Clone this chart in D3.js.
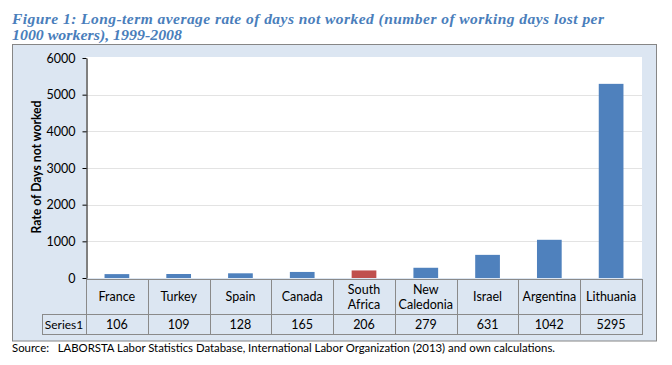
<!DOCTYPE html>
<html><head><meta charset="utf-8">
<script src="https://cdn.jsdelivr.net/npm/d3@7"></script>
<style>body{margin:0;background:#fff}svg{display:block}text{white-space:pre}</style>
</head><body>
<script>
const categories = ["France","Turkey","Spain","Canada","South Africa","New Caledonia","Israel","Argentina","Lithuania"];
const categoryLines = [["France"],["Turkey"],["Spain"],["Canada"],["South","Africa"],["New","Caledonia"],["Israel"],["Argentina"],["Lithuania"]];
const series1 = [106,109,128,165,206,279,631,1042,5295];
const highlight = ["South Africa"];
const yTicks = [0,1000,2000,3000,4000,5000,6000];
const seriesName = "Series1";
const titleLines = ["Figure 1: Long-term average rate of days not worked (number of working days lost per","1000 workers), 1999-2008"];
const yTitle = "Rate of Days not worked";
const source = "Source:   LABORSTA Labor Statistics Database, International Labor Organization (2013) and own calculations.";

const W=672,H=365;
const svg=d3.select("body").append("svg").attr("width",W).attr("height",H);
const font="Lato, 'Open Sans', sans-serif";

// title
svg.append("text").attr("x",12).attr("y",24).attr("textLength",592).attr("lengthAdjust","spacing")
  .attr("font-family","'Liberation Serif', serif").attr("font-style","italic").attr("font-weight","bold")
  .attr("font-size",15.5).attr("fill","#4a7ebb").text(titleLines[0]);
svg.append("text").attr("x",12).attr("y",40).attr("textLength",170).attr("lengthAdjust","spacingAndGlyphs")
  .attr("font-family","'Liberation Serif', serif").attr("font-style","italic").attr("font-weight","bold")
  .attr("font-size",15.5).attr("fill","#4a7ebb").text(titleLines[1]);

// outer box
svg.append("rect").attr("x",12.5).attr("y",44.5).attr("width",644).attr("height",296.5)
  .attr("fill","#dce6f2").attr("stroke","#868686");

const x0=86,x1=642,yTop=57,yBot=278;
const x=d3.scaleBand().domain(categories).range([x0,x1]).padding(0);
const y=d3.scaleLinear().domain([0,6000]).range([yBot,58]);

// plot area
svg.append("rect").attr("x",x0).attr("y",yTop).attr("width",x1-x0).attr("height",yBot-yTop).attr("fill","#fff");

// gridlines
svg.append("g").selectAll("line").data(yTicks.filter(d=>d>0&&d<6000)).join("line")
  .attr("x1",x0).attr("x2",x1).attr("y1",d=>Math.round(y(d))+0.5).attr("y2",d=>Math.round(y(d))+0.5)
  .attr("stroke","#e3e3e3");

// y axis
const ax=svg.append("g").attr("transform",`translate(${x0+0.5},0)`)
  .call(d3.axisLeft(y).tickValues(yTicks).tickFormat(d3.format("d")).tickSize(4).tickPadding(7).tickSizeOuter(0));
ax.select(".domain").attr("stroke","#000");
ax.selectAll(".tick line").attr("stroke","#000");
ax.selectAll("text").attr("font-family",font).attr("font-size",12.5).attr("fill","#000");

// y title
svg.append("text").attr("transform","translate(41,167) rotate(-90)").attr("text-anchor","middle")
  .attr("font-family",font).attr("font-weight","bold").attr("font-size",12.5).attr("fill","#000")
  .attr("textLength",133).attr("lengthAdjust","spacingAndGlyphs").text(yTitle);

// bars
const bw=x.bandwidth()*0.4;
svg.append("g").selectAll("rect").data(categories).join("rect")
  .attr("x",d=>x(d)+(x.bandwidth()-bw)/2).attr("width",bw)
  .attr("y",(d,i)=>y(series1[i])).attr("height",(d,i)=>yBot-y(series1[i]))
  .attr("fill",d=>highlight.includes(d)?"#c0504d":"#4f81bd");

// data table
const t=svg.append("g");
const r1=279,r2=314,r3=334,lc="#8a8a8a";
t.append("rect").attr("x",42.5).attr("y",r2+0.5).attr("width",x0-42).attr("height",r3-r2).attr("fill","none").attr("stroke",lc);
t.append("rect").attr("x",x0+0.5).attr("y",r1+0.5).attr("width",x1-x0).attr("height",r3-r1).attr("fill","none").attr("stroke",lc);
t.append("line").attr("x1",x0).attr("x2",x1).attr("y1",r2+0.5).attr("y2",r2+0.5).attr("stroke",lc);
t.selectAll("line.c").data(categories.slice(1)).join("line").attr("class","c")
  .attr("x1",d=>Math.round(x(d))+0.5).attr("x2",d=>Math.round(x(d))+0.5).attr("y1",r1).attr("y2",r3).attr("stroke",lc);
categories.forEach((c,i)=>{
  const cx=x(c)+x.bandwidth()/2, lines=categoryLines[i];
  lines.forEach((s,j)=>{
    const yy = lines.length===1 ? (r1+r2)/2+4.5 : (r1+r2)/2 - 3 + j*15;
    t.append("text").attr("x",cx).attr("y",yy).attr("text-anchor","middle")
      .attr("font-family",font).attr("font-size",12.5).attr("fill","#000").text(s);
  });
  t.append("text").attr("x",cx).attr("y",(r2+r3)/2+4.5).attr("text-anchor","middle")
    .attr("font-family",font).attr("font-size",12.5).attr("fill","#000").text(series1[i]);
});
t.append("text").attr("x",64).attr("y",(r2+r3)/2+4.5).attr("text-anchor","middle")
  .attr("font-family",font).attr("font-size",12).attr("fill","#000").text(seriesName);

// source
svg.append("text").attr("x",12).attr("y",352).attr("textLength",543).attr("lengthAdjust","spacingAndGlyphs")
  .attr("font-family",font).attr("font-size",11.5).attr("fill","#000").text(source);
</script>
</body></html>
